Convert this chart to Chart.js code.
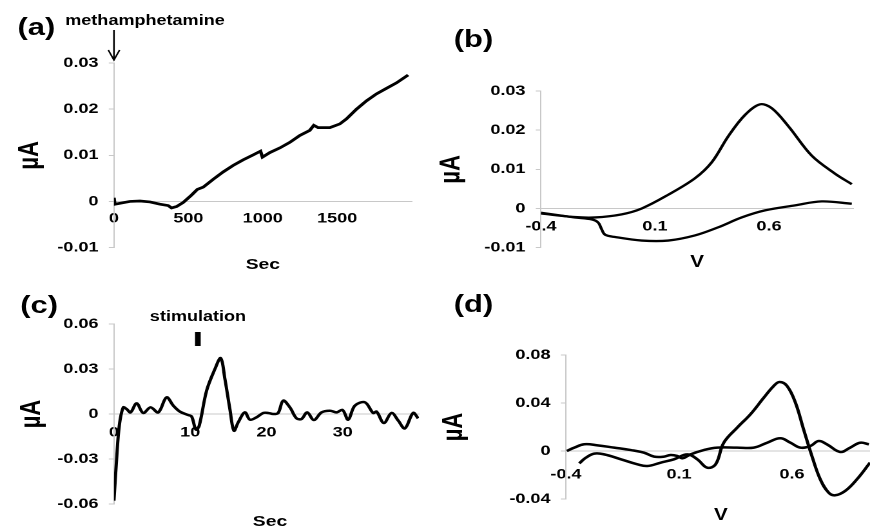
<!DOCTYPE html>
<html lang="en">
<head>
<meta charset="UTF-8">
<title>Methamphetamine voltammetry</title>
<script src="https://cdn.jsdelivr.net/npm/chart.js"></script>
<style>
    body { margin: 0; background: #fff; overflow: hidden; }
    /* the original figure is stretched horizontally, so draw at 675px and stretch */
    #fig {
        position: absolute; left: 0; top: 0; width: 675px; height: 527px;
        transform: scaleX(1.2889); transform-origin: 0 0;
        font-family: "Liberation Sans", Arial, sans-serif; font-weight: bold; color: #000;
    }
    #fig canvas { position: absolute; }
    .t { position: absolute; white-space: nowrap; line-height: 1; transform: translate(-50%, -50%); }
</style>
</head>
<body>
<div id="fig">
    <canvas id="chartA" width="340" height="264" style="left:0px;top:0px"></canvas>
    <canvas id="chartB" width="345" height="264" style="left:330px;top:0px"></canvas>
    <canvas id="chartC" width="340" height="263" style="left:0px;top:264px"></canvas>
    <canvas id="chartD" width="345" height="263" style="left:330px;top:264px"></canvas>

    <div class="t" style="left:28.3px;top:27px;font-size:24px">(a)</div>
    <div class="t" style="left:367.4px;top:38.5px;font-size:24px">(b)</div>
    <div class="t" style="left:30.3px;top:304.5px;font-size:24px">(c)</div>
    <div class="t" style="left:367.4px;top:304px;font-size:24px">(d)</div>

    <div class="t" style="left:112.5px;top:20px;font-size:14px">methamphetamine</div>
    <div class="t" style="left:153.6px;top:316px;font-size:14px">stimulation</div>

    <div class="t" style="left:204px;top:263px;font-size:15px">Sec</div>
    <div class="t" style="left:540.8px;top:262px;font-size:16px">V</div>
    <div class="t" style="left:209.5px;top:520px;font-size:15px">Sec</div>
    <div class="t" style="left:559.4px;top:515px;font-size:16px">V</div>
</div>

<script>
// (a) current after methamphetamine injection
var aSec = [0, 6, 40, 107, 175, 242, 309, 365, 387, 421, 466, 522, 560, 600, 667, 734, 801, 868, 936, 985,
            998, 1048, 1115, 1182, 1249, 1316, 1343, 1372, 1451, 1518, 1563, 1630, 1697, 1764, 1831, 1899, 1977];
var aUA = [0.0008, -0.0006, -0.0004, 0, 0.0001, -0.0001, -0.0006, -0.0009, -0.0014, -0.0011, -0.0002, 0.0014,
           0.0026, 0.0031, 0.0048, 0.0064, 0.0078, 0.009, 0.0101, 0.0109, 0.0096, 0.0106, 0.0116, 0.0128,
           0.0143, 0.0154, 0.0165, 0.016, 0.016, 0.0168, 0.0179, 0.02, 0.0218, 0.0233, 0.0245, 0.0257, 0.0274];
var aXTicks = [0, 500, 1000, 1500];
var aYTicks = [-0.01, 0, 0.01, 0.02, 0.03];
var arrowAt = 0;

// (b) voltammogram, forward and reverse scan
var bFwdV = [-0.4, -0.251, -0.163, -0.046, 0.042, 0.158, 0.275, 0.349, 0.422, 0.495, 0.561, 0.612, 0.685, 0.787, 0.889, 0.963];
var bFwdUA = [-0.0013, -0.0022, -0.0023, -0.0015, 0, 0.0035, 0.0077, 0.0118, 0.0185, 0.0239, 0.0266, 0.0256, 0.021, 0.0135, 0.0089, 0.0062];
var bRevV = [0.963, 0.831, 0.714, 0.582, 0.48, 0.378, 0.275, 0.158, 0.042, -0.075, -0.119, -0.134, -0.149, -0.178, -0.251, -0.4];
var bRevUA = [0.0012, 0.0018, 0.0008, -0.0005, -0.0023, -0.0048, -0.0069, -0.0082, -0.0082, -0.0073, -0.0067, -0.0053, -0.0036, -0.0028, -0.0023, -0.0011];
var bXTicks = [-0.4, 0.1, 0.6];
var bYTicks = [-0.01, 0, 0.01, 0.02, 0.03];

// (c) response to stimulation
var cSec = [0, 0.35, 0.7, 1.22, 1.66, 2.18, 2.97, 3.84, 4.8, 5.81, 6.9, 7.78, 8.65, 9.74, 10.18, 10.75, 11.18,
            12.15, 13.24, 14.0, 14.55, 15.2, 15.73, 16.29, 17.17, 17.82, 18.7, 19.57, 20.22, 20.88, 21.53, 22.19,
            23.07, 23.94, 24.6, 25.34, 26.21, 27.22, 28.31, 29.18, 29.97, 30.71, 31.59, 32.9, 33.99, 34.43,
            35.39, 36.4, 37.27, 38.14, 39.23, 39.88];
var cUA = [-0.0578, -0.03, -0.0078, 0.0044, 0.0033, 0.0011, 0.0071, 0.0007, 0.0044, 0.0011, 0.0111, 0.0056,
           0.0016, -0.0007, -0.0016, -0.0104, -0.0078, 0.0156, 0.03, 0.0372, 0.0233, 0.0033, -0.0111, -0.0056,
           0.0011, -0.0038, -0.0022, 0.0007, 0.0007, 0, 0.0007, 0.0089, 0.0044, -0.0029, -0.0033, 0.0011,
           -0.004, 0.0011, 0.0022, 0.0011, 0.0027, -0.0038, 0.0056, 0.0078, 0.0007, 0.0016, -0.006, 0.0007,
           -0.0044, -0.0096, 0.0007, -0.0029];
var cXTicks = [0, 10, 20, 30];
var cYTicks = [-0.06, -0.03, 0, 0.03, 0.06];
var stimAt = 11;

// (d) voltammograms
var dV1 = [-0.341, -0.312, -0.275, -0.231, -0.157, -0.084, -0.04, 0.019, 0.078, 0.137, 0.181, 0.225, 0.262,
           0.298, 0.357, 0.416, 0.475, 0.519, 0.545, 0.578, 0.615, 0.651, 0.688, 0.725, 0.762, 0.791, 0.835, 0.887, 0.945];
var dUA1 = [-0.0103, -0.0056, -0.0022, -0.0028, -0.0069, -0.0111, -0.0125, -0.0097, -0.0069, -0.0028, -0.0069,
            -0.0139, -0.0111, 0.0069, 0.0194, 0.0306, 0.0444, 0.0542, 0.0575, 0.0542, 0.0403, 0.0181, -0.0042,
            -0.0236, -0.0347, -0.0369, -0.0333, -0.0236, -0.0097];
var dV2 = [-0.396, -0.363, -0.319, -0.26, -0.187, -0.113, -0.055, -0.01, 0.034, 0.063, 0.093, 0.115, 0.151,
           0.21, 0.269, 0.357, 0.431, 0.49, 0.548, 0.593, 0.637, 0.681, 0.718, 0.754, 0.813, 0.857, 0.901, 0.94];
var dUA2 = [0, 0.0028, 0.0056, 0.0047, 0.0028, 0.0008, -0.0014, -0.0047, -0.0047, -0.0033, -0.0042, -0.0061,
            -0.0028, 0.0008, 0.0028, 0.0028, 0.0028, 0.0069, 0.0106, 0.0069, 0.0028, 0.0042, 0.0083, 0.0056,
            -0.0008, 0.0028, 0.0069, 0.0056];
var dXTicks = [-0.4, 0.1, 0.6];
var dYTicks = [-0.04, 0, 0.04, 0.08];

var axisGray = '#c8c8c8';
Chart.defaults.font.family = "'Liberation Sans', Arial, sans-serif";
Chart.defaults.color = '#000';

function pts(xs, ys) {
    return xs.map(function (x, i) { return { x: x, y: ys[i] }; });
}

function fmt(v) {
    return String(+Number(v).toFixed(2));
}

function lineSet(data, width) {
    return { data: data, borderColor: '#000', borderWidth: width, pointRadius: 0, fill: false };
}

function panelOptions(cfg) {
    return {
        responsive: false,
        animation: false,
        devicePixelRatio: 2,
        layout: { padding: cfg.pad },
        plugins: { legend: { display: false }, tooltip: { enabled: false } },
        elements: { line: { tension: cfg.tension } },
        scales: {
            x: {
                type: 'linear',
                min: cfg.xMin, max: cfg.xMax,
                position: { y: 0 },
                afterBuildTicks: function (s) { s.ticks = cfg.xTicks.map(function (v) { return { value: v }; }); },
                grid: { display: false, drawTicks: false },
                border: { color: axisGray, width: 1 },
                ticks: { font: { size: 14, weight: 'bold' }, color: '#000', padding: cfg.xPad,
                         maxRotation: 0, autoSkip: false, callback: fmt }
            },
            y: {
                type: 'linear',
                min: cfg.yMin, max: cfg.yMax,
                afterBuildTicks: function (s) { s.ticks = cfg.yTicks.map(function (v) { return { value: v }; }); },
                afterFit: function (s) { s.width = cfg.yw; },
                grid: { drawOnChartArea: false, drawTicks: true, tickLength: 4, color: axisGray },
                border: { color: axisGray, width: 1 },
                ticks: { font: { size: 14, weight: 'bold' }, color: '#000', padding: 8, callback: fmt },
                title: { display: true, text: 'µA', font: { size: 22, weight: 'bold' }, color: '#000', padding: 0 }
            }
        }
    };
}

// arrow over the injection time in (a)
var arrowMark = {
    id: 'arrowMark',
    afterDraw: function (chart) {
        var ctx = chart.ctx, area = chart.chartArea;
        var x = chart.scales.x.getPixelForValue(arrowAt);
        var y1 = area.top - 3, y0 = area.top - 33;
        ctx.save();
        ctx.strokeStyle = '#000';
        ctx.lineWidth = 1.3;
        ctx.beginPath();
        ctx.moveTo(x, y0);
        ctx.lineTo(x, y1);
        ctx.moveTo(x - 4.4, y1 - 10);
        ctx.lineTo(x, y1);
        ctx.lineTo(x + 4.4, y1 - 10);
        ctx.stroke();
        ctx.restore();
    }
};

// stimulation bar in (c)
var stimMark = {
    id: 'stimMark',
    afterDraw: function (chart) {
        var ctx = chart.ctx, area = chart.chartArea;
        var x = chart.scales.x.getPixelForValue(stimAt);
        ctx.save();
        ctx.fillStyle = '#000';
        ctx.fillRect(x - 2.2, area.top + 8, 4.4, 14);
        ctx.restore();
    }
};

new Chart(document.getElementById('chartA').getContext('2d'), {
    type: 'line',
    data: { datasets: [lineSet(pts(aSec, aUA), 2.7)] },
    options: panelOptions({
        pad: { left: 10, top: 63, right: 20.7, bottom: 13 }, yw: 78.4, tension: 0,
        xMin: 0, xMax: 2000, xTicks: aXTicks, xPad: 9,
        yMin: -0.01, yMax: 0.03, yTicks: aYTicks
    }),
    plugins: [arrowMark]
});

new Chart(document.getElementById('chartB').getContext('2d'), {
    type: 'line',
    data: { datasets: [lineSet(pts(bFwdV, bFwdUA), 2.3), lineSet(pts(bRevV, bRevUA), 2.3)] },
    options: panelOptions({
        pad: { left: 7, top: 91, right: 12.9, bottom: 14 }, yw: 82.7, tension: 0.35,
        xMin: -0.4, xMax: 0.97, xTicks: bXTicks, xPad: 10,
        yMin: -0.01, yMax: 0.03, yTicks: bYTicks
    })
});

new Chart(document.getElementById('chartC').getContext('2d'), {
    type: 'line',
    data: { datasets: [lineSet(pts(cSec, cUA), 2.5)] },
    options: panelOptions({
        pad: { left: 11.6, top: 60, right: 14.9, bottom: 23 }, yw: 76.8, tension: 0.35,
        xMin: 0, xMax: 40, xTicks: cXTicks, xPad: 10,
        yMin: -0.06, yMax: 0.06, yTicks: cYTicks
    }),
    plugins: [stimMark]
});

new Chart(document.getElementById('chartD').getContext('2d'), {
    type: 'line',
    data: { datasets: [lineSet(pts(dV1, dUA1), 2.5), lineSet(pts(dV2, dUA2), 2.5)] },
    options: panelOptions({
        pad: { left: 9.4, top: 91, right: 0, bottom: 28 }, yw: 99.7, tension: 0.4,
        xMin: -0.4, xMax: 0.945, xTicks: dXTicks, xPad: 15,
        yMin: -0.04, yMax: 0.08, yTicks: dYTicks
    })
});
</script>
</body>
</html>
